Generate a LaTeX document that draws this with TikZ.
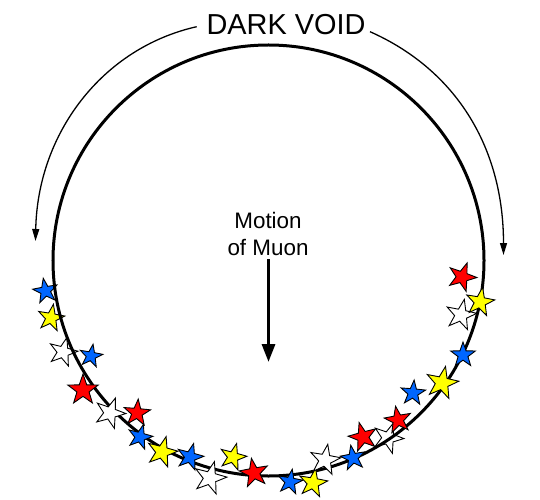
\documentclass[tikz,border=0pt]{standalone}
\usepackage{fontspec}
\setmainfont{Liberation Sans}
\usetikzlibrary{shapes.geometric,arrows.meta}
\definecolor{sblue}{RGB}{0,102,255}
\definecolor{syellow}{RGB}{255,255,0}
\definecolor{sred}{RGB}{255,0,0}
\begin{document}
\begin{tikzpicture}[x=1bp,y=-1bp,
  st/.style={star,star points=5,star point ratio=2.5,draw=black,line width=0.9bp,inner sep=0pt,minimum size=#1},
  bs/.style={st=#1,fill=sblue},
  ys/.style={st=#1,fill=syellow},
  rs/.style={st=#1,fill=sred},
  ws/.style={st=#1,fill=white},
  ring/.style={circle,draw=black,line width=3bp,inner sep=0pt,minimum size=431bp},
  voidarrow/.style={line width=1.3bp,-{Triangle[length=12bp,width=7bp]}},
  motarrow/.style={line width=3.2bp,-{Triangle[length=18bp,width=13bp]}},
  lbl/.style={inner sep=0pt,anchor=base}]
\useasboundingbox (0,0) rectangle (540,500);
% stars behind the ring
\node[bs=26,rotate=10]  (sA) at (45.5,291) {};
\node[ys=28,rotate=-10] (sB) at (51,318) {};
\node[ws=30,rotate=-15] (sC) at (63,352) {};
\node[ws=32,rotate=-20] (sS) at (388,438) {};
\node[ws=32,rotate=-12] (sX) at (461,315) {};
% ring
\node[ring] (ring) at (268.5,260.5) {};
% stars in front of the ring
\node[bs=24,rotate=-10] (sD) at (91,356) {};
\node[rs=32,rotate=0]   (sE) at (83,390) {};
\node[ws=32,rotate=-20] (sF) at (110,413) {};
\node[rs=28,rotate=-5]  (sG) at (137,413) {};
\node[bs=26,rotate=-15] (sH) at (140,437) {};
\node[ys=32,rotate=-15] (sI) at (162,452) {};
\node[bs=28,rotate=-15] (sJ) at (190,457) {};
\node[ws=34,rotate=-15] (sK) at (210,478) {};
\node[ys=28,rotate=-15] (sL) at (233,457) {};
\node[rs=30,rotate=10]  (sM) at (254,473) {};
\node[bs=26,rotate=-10] (sN) at (290,482) {};
\node[ys=30,rotate=-10] (sO) at (313,483) {};
\node[ws=32,rotate=-10] (sP) at (325,460) {};
\node[bs=26,rotate=10]  (sQ) at (353,458) {};
\node[rs=30,rotate=15]  (sR) at (363,437) {};
\node[rs=28,rotate=10]  (sT) at (398,420) {};
\node[bs=26,rotate=-5]  (sU) at (413,393) {};
\node[ys=34,rotate=-12] (sZ) at (442,383) {};
\node[bs=26,rotate=0]   (sY) at (463,355) {};
\node[ys=30,rotate=-10] (sW) at (480,302) {};
\node[rs=30,rotate=-20] (sV) at (462,277) {};
% title and arcs
\node[lbl,font=\fontsize{29}{34}\selectfont] (title) at (286,35) {DARK VOID};
\coordinate (la) at (196.7,26.7);
\coordinate (lb) at (35.5,241);
\coordinate (ra) at (370,31.7);
\coordinate (rb) at (503.5,255);
\draw[voidarrow] (la) .. controls (102,48) and (37.6,133.6) .. (lb);
\draw[voidarrow] (ra) .. controls (456.7,70.1) and (503.5,148.3) .. (rb);
% motion label and arrow
\node[lbl,font=\fontsize{22.5}{27}\selectfont] (m1) at (268,228) {Motion};
\node[lbl,font=\fontsize{22.5}{27}\selectfont] (m2) at (268,255.5) {of Muon};
\coordinate (tip) at (268.5,362);
\draw[motarrow] (268.5,259) -- (tip);
\end{tikzpicture}
\end{document}
